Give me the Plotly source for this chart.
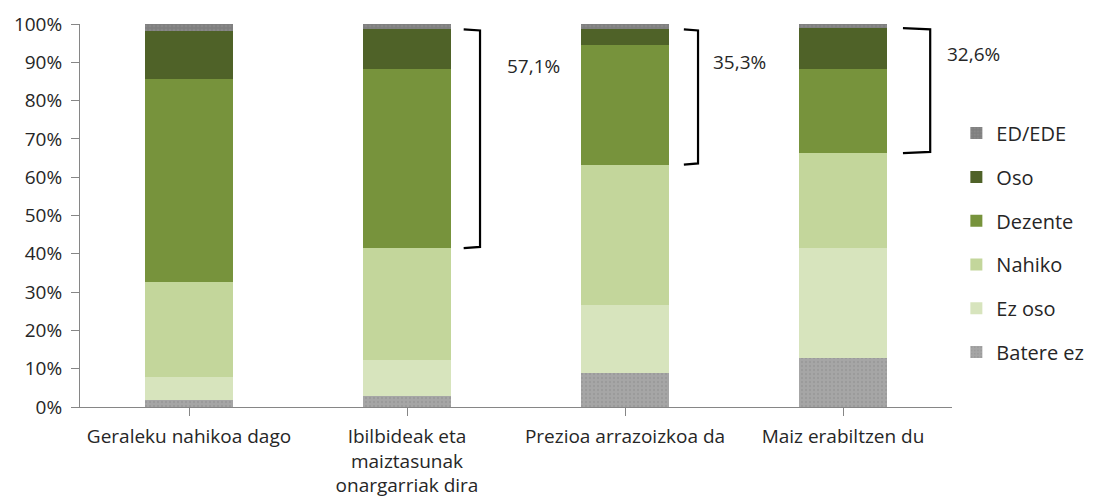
import plotly.graph_objects as go

categories = ["Geraleku nahikoa dago", "Ibilbideak eta<br>maiztasunak<br>onargarriak dira",
              "Prezioa arrazoizkoa da", "Maiz erabiltzen du"]

batere_ez = [1.9, 2.9, 9.0, 12.9]
ez_oso = [6.0, 9.4, 17.6, 28.6]
nahiko = [24.7, 29.2, 36.7, 24.8]
dezente = [53.0, 46.7, 31.2, 21.9]
oso = [12.7, 10.4, 4.1, 10.7]
ed_ede = [1.7, 1.4, 1.4, 1.1]

bracket_labels = ["57,1%", "35,3%", "32,6%"]
bracket_bars = [1, 2, 3]

series = [
    ("Batere ez", batere_ez, "#a6a6a6", True),
    ("Ez oso", ez_oso, "#d7e4bd", False),
    ("Nahiko", nahiko, "#c3d69b", False),
    ("Dezente", dezente, "#77933c", False),
    ("Oso", oso, "#4f6228", False),
    ("ED/EDE", ed_ede, "#7f7f7f", True),
]

FONT = "Open Sans"
TXT = "#262626"
FS = 19

fig = go.Figure()
xs = list(range(len(categories)))
n = len(series)
for i, (name, vals, col, pat) in enumerate(series):
    marker = dict(color=col, line=dict(width=0))
    if pat:
        marker["pattern"] = dict(shape=".", fgcolor="#909090", size=4, solidity=0.3, fillmode="overlay")
    fig.add_trace(go.Bar(x=xs, y=vals, name=name, marker=marker, legendgroup=name,
                         legendrank=n - i, width=0.4))

fig.update_layout(
    barmode="stack",
    width=1086, height=493,
    margin=dict(l=72, r=142, t=16, b=94, autoexpand=False),
    plot_bgcolor="white", paper_bgcolor="white",
    font=dict(family=FONT, size=FS, color=TXT),
    showlegend=True,
    legend=dict(traceorder="grouped", tracegroupgap=14.8, x=1.005, y=0.766,
                xanchor="left", yanchor="top", font=dict(size=20, color=TXT),
                bgcolor="rgba(0,0,0,0)"),
)

fig.update_xaxes(
    tickmode="array", tickvals=xs, ticktext=categories,
    range=[-0.5, len(categories) - 0.5], automargin=False,
    showline=True, linecolor="#868686", linewidth=1,
    ticks="outside", ticklen=8, tickcolor="#868686", tickson="boundaries",
    ticklabelstandoff=4,
    showgrid=False, zeroline=False, tickfont=dict(size=FS, color=TXT),
)
fig.update_yaxes(
    range=[0, 100], dtick=10, ticksuffix="%", automargin=False,
    showline=True, linecolor="#868686", linewidth=1,
    ticks="outside", ticklen=8, tickcolor="#868686", ticklabelstandoff=5,
    showgrid=False, zeroline=False, tickfont=dict(size=FS, color=TXT),
)

ncat = len(categories)
def to_paper(idx, off):
    return (idx + 0.5 + off) / ncat

bracket_x = [(0.26, 0.335), (0.27, 0.335), (0.275, 0.40)]
label_off = [0.58, 0.525, 0.6]
label_y = [89, 90.1, 92.2]
for k, b in enumerate(bracket_bars):
    top = 100 - ed_ede[b]
    bottom = batere_ez[b] + ez_oso[b] + nahiko[b]
    x0 = to_paper(b, bracket_x[k][0])
    x1 = to_paper(b, bracket_x[k][1])
    path = (f"M {x0},{top} L {x1},{top - 0.3} L {x1},{bottom + 0.3} L {x0},{bottom}")
    fig.add_shape(type="path", path=path, xref="paper", yref="y",
                  line=dict(color="black", width=2.2))
    fig.add_annotation(x=to_paper(b, label_off[k]), y=label_y[k], xref="paper", yref="y",
                       xanchor="center", yanchor="middle",
                       text=bracket_labels[k], showarrow=False,
                       font=dict(size=FS, color=TXT, family=FONT))

fig.write_html("out.html")
